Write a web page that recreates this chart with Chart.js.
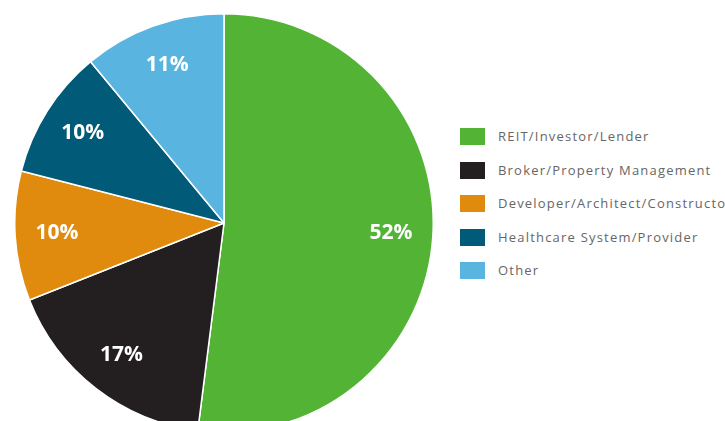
<!DOCTYPE html>
<html>
<head>
<meta charset="utf-8">
<script src="https://cdn.jsdelivr.net/npm/chart.js@4"></script>
<style>
  html, body { margin: 0; padding: 0; width: 725px; height: 421px; overflow: hidden; background: #fff; }
  #pieBox { position: absolute; left: 14px; top: 13px; width: 420px; height: 420px; }
  #legend { position: absolute; left: 460px; top: 128px; font-family: "Open Sans", sans-serif; font-size: 13px; letter-spacing: 1.2px; color: #666; white-space: nowrap; }
  .row { height: 33.5px; display: flex; align-items: flex-start; }
  .sw { width: 25px; height: 17px; margin-right: 13px; }
  .row span { line-height: 17px; }
</style>
</head>
<body>
<div id="pieBox"><canvas id="pieChart"></canvas></div>
<div id="legend"></div>
<script>
// segments, clockwise from 12 o'clock
const labels = ['REIT/Investor/Lender', 'Broker/Property Management', 'Developer/Architect/Constructor', 'Healthcare System/Provider', 'Other'];
const shares = [52, 17, 10, 10, 11];
const colors = ['#52b335', '#231f20', '#e08a0e', '#005a78', '#5ab4e0'];

// percent labels inside the slices
const sliceLabels = {
  id: 'sliceLabels',
  afterDatasetsDraw(chart) {
    const ctx = chart.ctx;
    const meta = chart.getDatasetMeta(0);
    ctx.save();
    ctx.fillStyle = '#fff';
    ctx.font = 'bold 21px "Open Sans", sans-serif';
    ctx.textAlign = 'center';
    ctx.textBaseline = 'middle';
    meta.data.forEach((arc, i) => {
      const mid = (arc.startAngle + arc.endAngle) / 2;
      const r = arc.outerRadius * 0.8;
      ctx.fillText(shares[i] + '%', arc.x + Math.cos(mid) * r, arc.y + Math.sin(mid) * r);
    });
    ctx.restore();
  }
};

new Chart(document.getElementById('pieChart').getContext('2d'), {
  type: 'pie',
  data: {
    labels: labels,
    datasets: [{
      data: shares,
      backgroundColor: colors,
      borderColor: '#fff',
      borderWidth: 1.5
    }]
  },
  options: {
    responsive: true,
    maintainAspectRatio: false,
    animation: false,
    layout: { padding: 0 },
    plugins: {
      legend: { display: false },
      tooltip: { enabled: false }
    }
  },
  plugins: [sliceLabels]
});

// legend on the right
const legend = document.getElementById('legend');
labels.forEach((name, i) => {
  const row = document.createElement('div');
  row.className = 'row';
  row.innerHTML = '<div class="sw" style="background:' + colors[i] + '"></div><span>' + name + '</span>';
  legend.appendChild(row);
});
</script>
</body>
</html>
